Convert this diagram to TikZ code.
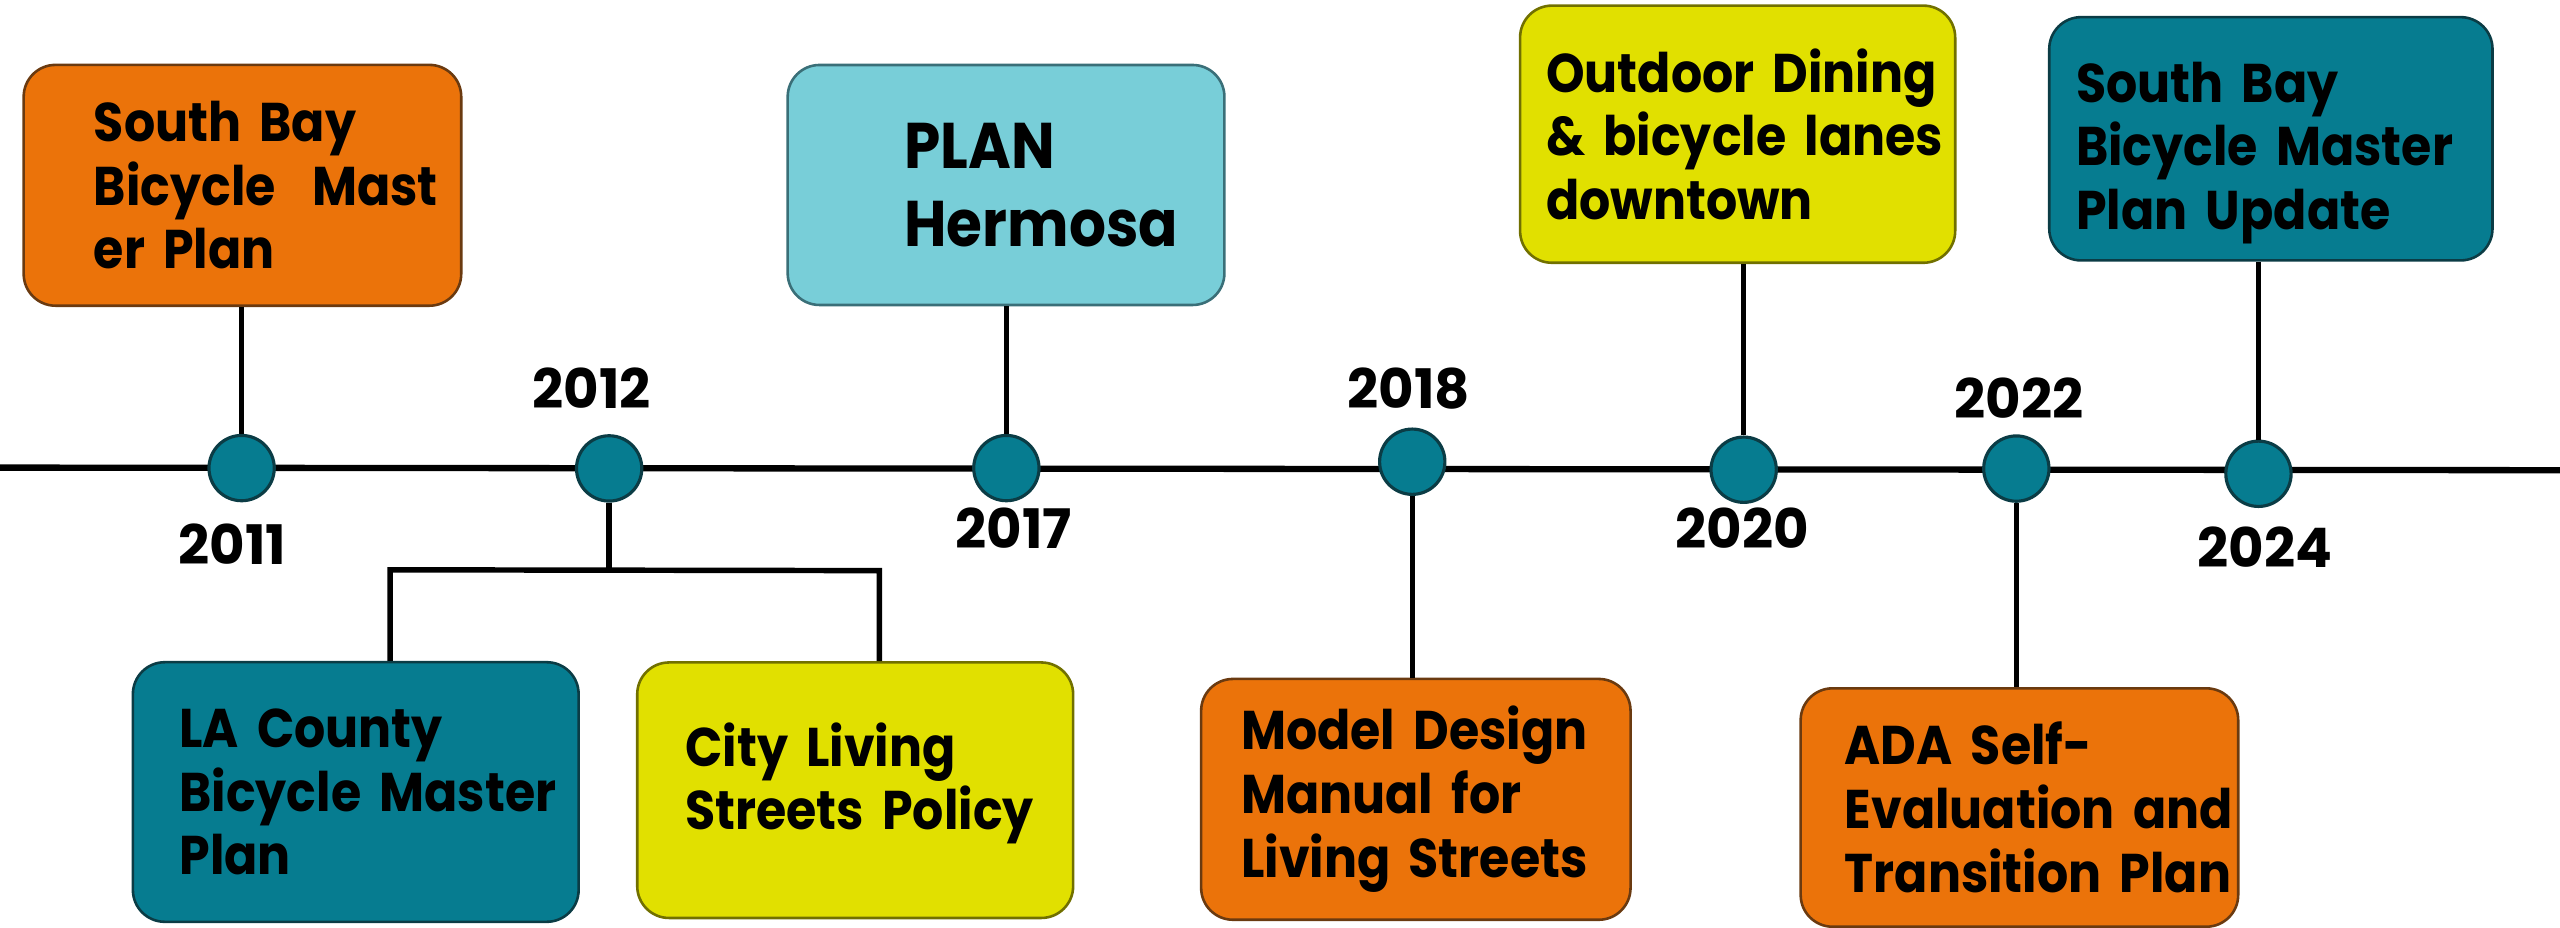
\documentclass[tikz,border=0pt]{standalone}
\usepackage{fontspec}
\setmainfont{Poppins}
\newfontfamily\boxfont{Poppins}[FakeStretch=0.9]

\definecolor{orangefill}{HTML}{EB730A}
\definecolor{orangeline}{HTML}{6A3A10}
\definecolor{tealfill}{HTML}{067C90}
\definecolor{tealline}{HTML}{0B3C45}
\definecolor{yellowfill}{HTML}{E1E000}
\definecolor{yellowline}{HTML}{717000}
\definecolor{cyanfill}{HTML}{78CED8}
\definecolor{cyanline}{HTML}{3A6F78}

\begin{document}
\begin{tikzpicture}[x=0.2mm,y=-0.2mm,
   box/.style={draw,rounded corners=3.9mm,line width=0.9pt,align=left,inner ysep=0pt,
      font=\boxfont\bfseries\fontsize{19}{22.2}\selectfont,
      execute at begin node={\hyphenpenalty=10000\exhyphenpenalty=10000}},
   orangebox/.style={box,fill=orangefill,draw=orangeline},
   tealbox/.style={box,fill=tealfill,draw=tealline},
   yellowbox/.style={box,fill=yellowfill,draw=yellowline},
   cyanbox/.style={box,fill=cyanfill,draw=cyanline},
   dot/.style={circle,minimum size=8mm,inner sep=0pt,fill=tealfill,draw=tealline,line width=1.1pt},
   year/.style={inner sep=0pt,font=\bfseries\fontsize{19}{22.2}\selectfont},
   link/.style={line width=1.9pt},
   axis/.style={line width=2.2pt}]

   \useasboundingbox (0,0) rectangle (1568,568);

   \coordinate (left) at (0,286.4);
   \coordinate (right) at (1568,288);
   \draw[axis] (left) -- (right);

   \node[dot] (d2011) at (148,286.7) {};
   \node[dot] (d2012) at (373.1,286.9) {};
   \node[dot] (d2017) at (616.4,286.7) {};
   \node[dot] (d2018) at (865,282.8) {};
   \node[dot] (d2020) at (1068,287.7) {};
   \node[dot] (d2022) at (1235,287) {};
   \node[dot] (d2024) at (1383.3,290.2) {};

   \node[year] (y2011) at (142.5,333.5) {2011};
   \node[year] (y2012) at (362.5,237.5) {2012};
   \node[year] (y2017) at (621,323.5)   {2017};
   \node[year] (y2018) at (863,237.7)   {2018};
   \node[year] (y2020) at (1067,323.7)  {2020};
   \node[year] (y2022) at (1236.5,243.8) {2022};
   \node[year] (y2024) at (1387.3,335)  {2024};

   \node[orangebox,text width=36.4mm,inner xsep=8.6mm,minimum height=29.5mm] (southbay) at (148.5,113.5)
      {South~Bay\\Bicycle~~Mast\\er~Plan};
   \node[cyanbox,text width=24.9mm,inner xsep=14.3mm,minimum height=29.4mm,
      font=\boxfont\bfseries\fontsize{22.5}{27}\selectfont] (hermosa) at (616.2,113.3)
      {PLAN\\Hermosa};
   \node[yellowbox,text width=46.9mm,inner xsep=3.2mm,minimum height=31.5mm] (dining) at (1064.3,82.2)
      {Outdoor~Dining\\\&~bicycle~lanes\\downtown};
   \node[tealbox,text width=47.7mm,inner xsep=3.3mm,minimum height=29.8mm,text height=24pt] (update) at (1390.9,85)
      {South~Bay\\Bicycle~Master\\Plan~Update};
   \node[tealbox,text width=43.2mm,inner xsep=5.7mm,minimum height=31.8mm] (county) at (217.9,485.1)
      {LA~County\\Bicycle~Master\\Plan};
   \node[yellowbox,text width=41.6mm,inner xsep=5.9mm,minimum height=31.3mm,text depth=32pt] (living) at (523.8,484)
      {City~Living\\Streets~Policy};
   \node[orangebox,text width=42.8mm,inner xsep=4.9mm,minimum height=29.5mm] (manual) at (867.2,489.6)
      {Model~Design\\Manual~for\\Living~Streets};
   \node[orangebox,text width=42.8mm,inner xsep=5.4mm,minimum height=29.2mm] (ada) at (1236.9,494.6)
      {ADA~Self-\\Evaluation~and\\Transition~Plan};

   \coordinate (forkL) at (239,349);
   \coordinate (forkR) at (538.6,349.5);

   \draw[link] (d2011.north) -- (d2011.north |- southbay.south);
   \draw[link] (d2012.south) -- (d2012.south |- forkL);
   \draw[link] (county.north -| forkL) -- (forkL) -- (forkR) -- (living.north -| forkR);
   \draw[link] (d2017.north) -- (d2017.north |- hermosa.south);
   \draw[link] (d2018.south) -- (d2018.south |- manual.north);
   \draw[link] (d2020.north) -- (d2020.north |- dining.south);
   \draw[link] (d2022.south) -- (d2022.south |- ada.north);
   \draw[link] (d2024.north) -- (d2024.north |- update.south);
\end{tikzpicture}
\end{document}
